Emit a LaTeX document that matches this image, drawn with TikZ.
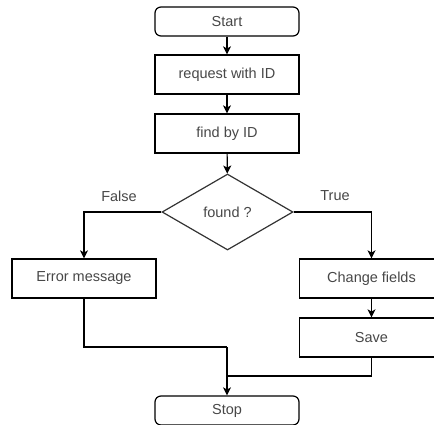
\documentclass[tikz,border=0pt]{standalone}
\usepackage{fontspec}
\setmainfont{Liberation Sans}
\usetikzlibrary{shapes.geometric,arrows.meta}

\begin{document}
\begin{tikzpicture}[x=1pt,y=1pt,
  every node/.style={font=\fontsize{14.5}{16}\selectfont, text=black!72},
  proc/.style={draw=black, line width=1.2pt, minimum width=144pt, minimum height=39pt, inner sep=0pt},
  term/.style={proc, rounded corners=6pt, minimum height=29pt},
  decision/.style={draw=black!80, line width=1.2pt, diamond, minimum width=131pt, minimum height=76pt, inner sep=0pt},
  flow/.style={draw=black, line width=1.2pt, -{Stealth[length=8pt,width=8pt,inset=2pt]}},
  link/.style={draw=black, line width=1.2pt},
  lbl/.style={text=black!72}
]
\useasboundingbox (0,0) rectangle (434,-424);

% process steps
\node[term] (start) at (227,-21.5) {Start};
\node[proc] (req) at (227,-74.5) {request with ID};
\node[proc] (find) at (227,-133.5) {find by ID};
\node[decision] (found) at (227.5,-212) {found ?};
\node[proc] (err) at (84,-278.5) {Error message};
\node[proc] (chg) at (371.5,-278.5) {Change fields};
\node[proc] (save) at (371.5,-337.5) {Save};
\node[term] (stop) at (227,-410.5) {Stop};

% branch labels
\node[lbl] (lfalse) at (119,-196) {False};
\node[lbl] (ltrue) at (335,-196) {True};

% junction points on the way to Stop
\coordinate (errturn) at (84,-347);
\coordinate (errjoin) at (227,-347);
\coordinate (saveturn) at (371.5,-376);
\coordinate (savejoin) at (227,-376);

% connectors
\draw[flow] (start) -- (req);
\draw[flow] (req) -- (find);
\draw[flow] (find) -- (found);
\draw[flow] (found.west) -| (err.north);
\draw[flow] (found.east) -| (chg.north);
\draw[flow] (chg) -- (save);
\draw[link] (err.south) -- (errturn) -- (errjoin);
\draw[flow] (errjoin) -- (stop.north);
\draw[link] (save.south) -- (saveturn) -- (savejoin);
\end{tikzpicture}
\end{document}
